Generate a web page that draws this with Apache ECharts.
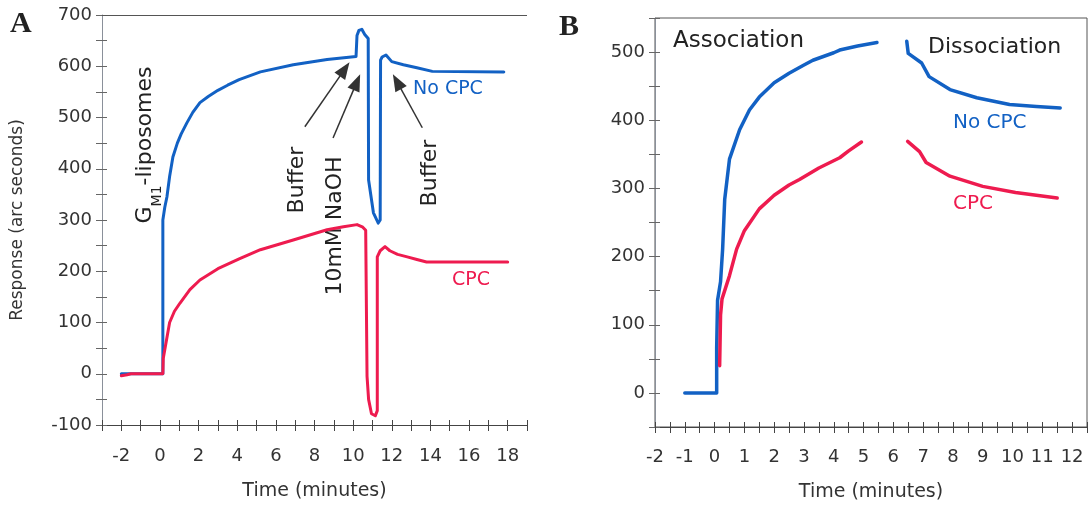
<!DOCTYPE html>
<html>
<head>
<meta charset="utf-8">
<script src="https://cdn.jsdelivr.net/npm/echarts@6.0.0/dist/echarts.min.js"></script>
<style>
  html, body { margin: 0; padding: 0; background: #fff; }
  #chart { width: 1092px; height: 507px; }
</style>
</head>
<body>
<div id="chart"></div>
<script>
// Panel A: [time (min), response (arc seconds)]
const noCpcA = [
  [-2, 0], [0.15, 0], [0.15, 300], [0.25, 325], [0.36, 345], [0.5, 385], [0.67, 423],
  [0.9, 450], [1.1, 468], [1.4, 490], [1.7, 510], [2.07, 529], [2.5, 541], [3, 553],
  [3.5, 563], [4.1, 574], [5.2, 589], [6.9, 603], [8.65, 613], [10.15, 619],
  [10.2, 660], [10.3, 670], [10.45, 672], [10.6, 662], [10.78, 654], [10.8, 378],
  [11.05, 314], [11.3, 294], [11.4, 300], [11.42, 612], [11.5, 618], [11.7, 622],
  [12, 609], [12.6, 603], [13.3, 597], [14.1, 590], [17.8, 589]
]
const cpcA = [
  [-2, -4], [-1.7, -2], [-1.5, 0], [0.15, 0], [0.17, 30], [0.25, 47], [0.5, 100],
  [0.75, 122], [1.04, 138], [1.55, 164], [2.07, 183], [3, 205], [4.1, 224], [5.2, 242],
  [6.9, 261], [8.65, 281], [9.5, 287], [10.2, 291], [10.5, 286], [10.65, 280],
  [10.72, -5], [10.8, -50], [10.95, -78], [11.15, -82], [11.25, -72], [11.25, 228],
  [11.4, 240], [11.65, 248], [11.9, 240], [12.3, 233], [12.8, 228], [13.3, 223],
  [13.8, 218], [18, 218]
]
// arrows: [tail, head] in data units
const arrowsA = [
  [[7.5, 482], [9.56, 594]],
  [[8.96, 460], [10.19, 569]],
  [[13.58, 480], [12.27, 570]]
]

// Panel B
const noCpcAssocB = [
  [-1, 0], [0.07, 0], [0.07, 65], [0.1, 136], [0.2, 163], [0.27, 211], [0.34, 284],
  [0.5, 343], [0.84, 386], [1.17, 415], [1.5, 434], [2, 455], [2.5, 469], [3, 481],
  [3.3, 488], [4, 499], [4.2, 503], [4.8, 509], [5.45, 514]
]
const noCpcDissocB = [
  [6.45, 516], [6.5, 498], [6.95, 484], [7.2, 464], [7.9, 445], [8.8, 433],
  [9.9, 423], [10.8, 420], [11.6, 418]
]
const cpcAssocB = [
  [0.17, 40], [0.2, 114], [0.25, 138], [0.5, 172], [0.74, 211], [1, 238], [1.5, 270],
  [2, 290], [2.5, 305], [2.85, 313], [3.5, 330], [4.2, 345], [4.5, 355], [4.93, 368]
]
const cpcDissocB = [
  [6.48, 369], [6.88, 354], [7.1, 338], [7.9, 318], [9.0, 303], [10.1, 294], [11.5, 286]
]

const blue = '#1261c4'
const red = '#ee1b4f'
const ink = '#333'
const font = 'DejaVu Sans'

const mainX = (grid, min, max, step, fmt, gap, margin) => ({
  type: 'value', gridIndex: grid, min: min, max: max, interval: step, position: 'bottom',
  axisLine: { onZero: false, lineStyle: { color: '#444' } },
  axisTick: { length: 6, lineStyle: { color: '#444' } },
  axisLabel: { formatter: fmt, fontFamily: font, fontSize: 18, color: ink, margin: margin },
  splitLine: { show: false },
  name: 'Time (minutes)', nameLocation: 'middle', nameGap: gap,
  nameTextStyle: { fontFamily: font, fontSize: 19, color: ink },
})
// second axis on the same side, only for the inner half of the crossing ticks
const tickX = (grid, min, max, step) => ({
  type: 'value', gridIndex: grid, min: min, max: max, interval: step, position: 'bottom',
  axisLine: { show: false, onZero: false },
  axisTick: { show: true, inside: true, length: 5, lineStyle: { color: '#444' } },
  axisLabel: { show: false }, splitLine: { show: false },
})
const mainY = (grid, min, max, step, fmt) => ({
  type: 'value', gridIndex: grid, min: min, max: max, interval: step, position: 'left',
  axisLine: { show: true, onZero: false, lineStyle: { color: '#8a909a' } },
  axisTick: { show: true, length: 6, lineStyle: { color: '#666' } },
  axisLabel: { formatter: fmt, fontFamily: font, fontSize: 18, color: ink, margin: 10 },
  splitLine: { show: false },
})
const tickY = (grid, min, max, step) => ({
  type: 'value', gridIndex: grid, min: min, max: max, interval: step, position: 'left',
  axisLine: { show: false, onZero: false },
  axisTick: { show: true, inside: true, length: 5, lineStyle: { color: '#666' } },
  axisLabel: { show: false }, splitLine: { show: false },
})

const yA = mainY(0, -100, 700, 50, (v) => (v % 100 === 0 ? String(v) : ''))
yA.name = 'Response (arc seconds)'
yA.nameLocation = 'middle'
yA.nameGap = 76
yA.nameTextStyle = { fontFamily: font, fontSize: 17, color: ink }

const line = (data, color, x, y, width) => ({
  type: 'line', data: data, xAxisIndex: x, yAxisIndex: y,
  showSymbol: false, symbol: 'none', animation: false, silent: true, clip: false,
  lineStyle: { color: color, width: width, join: 'round', cap: 'round' },
})

const blueA = line(noCpcA, blue, 0, 0, 3)
blueA.markLine = {
  silent: true, animation: false, symbol: 'none', label: { show: false },
  lineStyle: { color: '#555', width: 1, type: 'solid' },
  data: [[{ coord: [-3, 700] }, { coord: [19, 700] }]],
}
const redA = line(cpcA, red, 0, 0, 3)
redA.markLine = {
  silent: true, animation: false, symbol: ['none', 'triangle'], symbolSize: [13, 17],
  label: { show: false },
  lineStyle: { color: '#333', width: 1.5, type: 'solid' },
  data: arrowsA.map((a) => [{ coord: a[0] }, { coord: a[1] }]),
}

const txt = (x, y, text, size, color) => ({
  type: 'text', x: x, y: y, silent: true,
  style: { text: text, fontFamily: font, fontSize: size, fill: color, align: 'left', verticalAlign: 'middle' },
})
const vtxt = (x, y, text, size) => ({
  type: 'text', x: x, y: y, rotation: Math.PI / 2, silent: true,
  style: { text: text, fontFamily: font, fontSize: size, fill: '#222', align: 'center', verticalAlign: 'middle' },
})

const chart = echarts.init(document.getElementById('chart'))
const option = {
  backgroundColor: '#fff',
  animation: false,
  grid: [
    { left: 102, top: 15, width: 425, height: 410 },
    { left: 655, top: 18, width: 432, height: 412, show: true, borderColor: '#555', borderWidth: 1 },
  ],
  xAxis: [
    mainX(0, -3, 19, 1, (v) => (v % 2 === 0 ? String(v) : ''), 57, 22),
    tickX(0, -3, 19, 1),
    mainX(1, -2, 12.5, 0.5, (v) => (Number.isInteger(v) ? String(v) : ''), 56, 21),
    tickX(1, -2, 12.5, 0.5),
  ],
  yAxis: [
    yA,
    tickY(0, -100, 700, 50),
    mainY(1, -50, 550, 50, (v) => (v % 100 === 0 && v >= 0 ? String(v) : '')),
    tickY(1, -50, 550, 50),
  ],
  series: [
    blueA,
    redA,
    line(noCpcAssocB, blue, 2, 2, 3.5),
    line(noCpcDissocB, blue, 2, 2, 3.5),
    line(cpcAssocB, red, 2, 2, 3.5),
    line(cpcDissocB, red, 2, 2, 3.5),
  ],
  graphic: [
    { type: 'text', x: 10, y: 24, silent: true,
      style: { text: 'A', font: 'bold 30px "Liberation Serif"', fill: '#222', align: 'left', verticalAlign: 'middle' } },
    { type: 'text', x: 559, y: 27, silent: true,
      style: { text: 'B', font: 'bold 30px "Liberation Serif"', fill: '#222', align: 'left', verticalAlign: 'middle' } },
    {
      type: 'text', x: 149, y: 145, rotation: Math.PI / 2, silent: true,
      style: {
        text: '{g|G}{s|M1}{g|-liposomes}', fill: '#222', align: 'center', verticalAlign: 'middle',
        rich: {
          g: { fontFamily: font, fontSize: 22, lineHeight: 30, verticalAlign: 'top', fill: '#222' },
          s: { fontFamily: font, fontSize: 14, lineHeight: 14, verticalAlign: 'bottom', fill: '#222' },
        },
      },
    },
    vtxt(297, 180, 'Buffer', 22),
    vtxt(335, 226, '10mM NaOH', 22),
    vtxt(430, 173, 'Buffer', 22),
    txt(413, 89, 'No CPC', 19, blue),
    txt(452, 280, 'CPC', 19, red),
    txt(673, 41, 'Association', 23, '#222'),
    txt(928, 47, 'Dissociation', 22, '#222'),
    txt(953, 123, 'No CPC', 20, blue),
    txt(953, 204, 'CPC', 20, red),
  ],
}
chart.setOption(option)
</script>
</body>
</html>
